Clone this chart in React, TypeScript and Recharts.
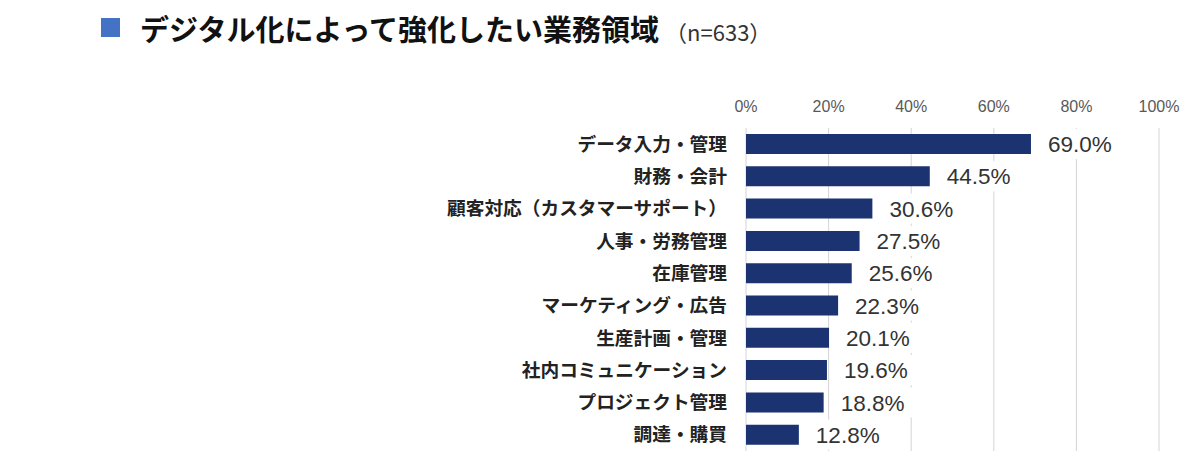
import { BarChart, Bar, XAxis, YAxis, CartesianGrid, LabelList } from "recharts";

const categories = [
  "データ入力・管理",
  "財務・会計",
  "顧客対応（カスタマーサポート）",
  "人事・労務管理",
  "在庫管理",
  "マーケティング・広告",
  "生産計画・管理",
  "社内コミュニケーション",
  "プロジェクト管理",
  "調達・購買",
];
const values = [69.0, 44.5, 30.6, 27.5, 25.6, 22.3, 20.1, 19.6, 18.8, 12.8];
const xTicks = [0, 20, 40, 60, 80, 100];

const data = categories.map((name, i) => ({ name, value: values[i] }));

const JP = '"Noto Sans CJK JP", "Noto Sans", sans-serif';
const LAT = '"Liberation Sans", Arial, sans-serif';

// value label with a white box behind it, like the original
const ValueLabel = (props: any) => {
  const { x, y, width, height, value } = props;
  const right = x + width;
  const cy = y + height / 2;
  return (
    <g>
      <rect x={right + 7} y={cy - 15} width={88} height={30} fill="#fff" />
      <text
        x={right + 17}
        y={cy}
        dy="0.36em"
        fontSize={22.5}
        fontFamily={LAT}
        fill="#333"
      >
        {value.toFixed(1)}%
      </text>
    </g>
  );
};

export default function App() {
  return (
    <div style={{ position: "absolute", left: 0, top: 0, width: 1200, height: 472, background: "#fff" }}>
      <div
        style={{
          position: "absolute",
          left: 101,
          top: 18,
          width: 19,
          height: 19,
          background: "#4472C4",
        }}
      />
      <div
        style={{
          position: "absolute",
          left: 140,
          top: 8,
          fontFamily: JP,
          fontWeight: 700,
          fontSize: 29,
          lineHeight: "40px",
          color: "#111",
          whiteSpace: "nowrap",
        }}
      >
        デジタル化によって強化したい業務領域
        <span style={{ fontWeight: 400, fontSize: 22, color: "#333", marginLeft: 6 }}>（n=633）</span>
      </div>
      <BarChart
        width={1200}
        height={472}
        data={data}
        layout="vertical"
        margin={{ top: 98, right: 41, bottom: 21, left: 426 }}
        barSize={20}
      >
        <CartesianGrid horizontal={false} stroke="#d4d4d4" />
        <XAxis
          type="number"
          orientation="top"
          domain={[0, 100]}
          ticks={xTicks}
          tickFormatter={(v) => `${v}%`}
          axisLine={false}
          tickLine={false}
          tickSize={0}
          tickMargin={16}
          height={30}
          tick={{ fontSize: 16, fill: "#595959", fontFamily: LAT }}
          interval={0}
        />
        <YAxis
          type="category"
          dataKey="name"
          width={320}
          axisLine={false}
          tickLine={false}
          tickSize={0}
          tickMargin={19}
          interval={0}
          tick={{ fontSize: 18.7, fill: "#222", fontFamily: JP, fontWeight: 700 }}
        />
        <Bar dataKey="value" fill="#1B3370" isAnimationActive={false}>
          <LabelList dataKey="value" content={<ValueLabel />} />
        </Bar>
      </BarChart>
    </div>
  );
}
